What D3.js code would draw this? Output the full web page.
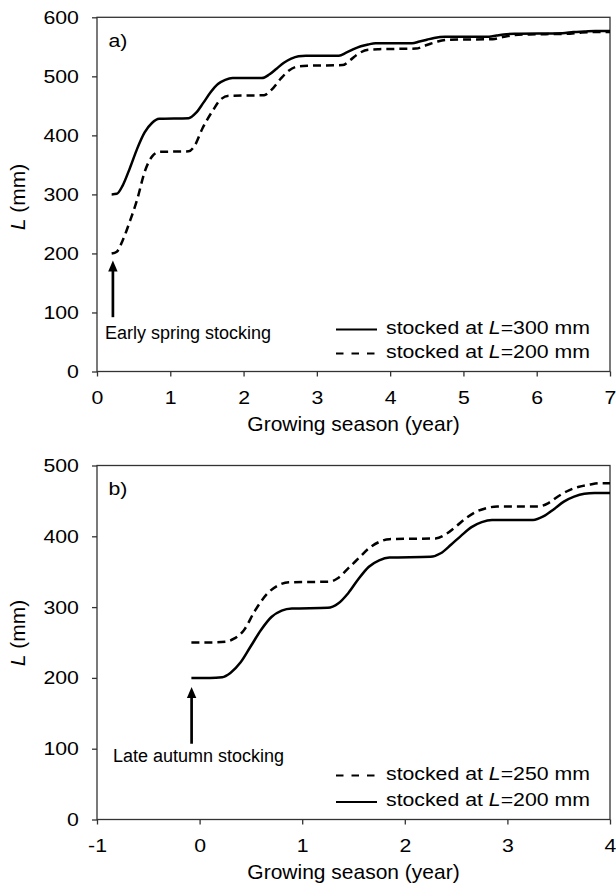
<!DOCTYPE html>
<html>
<head>
<meta charset="utf-8">
<script src="https://cdn.jsdelivr.net/npm/d3@7"></script>
<style>
  body { margin: 0; background: #fff; }
  svg text { font-family: "Liberation Sans", Arial, sans-serif; fill: #000; }
</style>
</head>
<body>
<div class="chart"></div>
<script>
var svgWidth = 616;
var svgHeight = 886;

// panel a) early spring stocking
var xTicksA = [0, 1, 2, 3, 4, 5, 6, 7];
var yTicksA = [0, 100, 200, 300, 400, 500, 600];
var a300x = [0.2, 0.27, 0.35, 0.45, 0.55, 0.65, 0.75, 0.85, 1.25, 1.35, 1.45, 1.55, 1.65, 1.75, 1.85, 2.25, 2.35, 2.45, 2.55, 2.65, 2.75, 2.85, 3.3, 3.4, 3.5, 3.6, 3.7, 3.8, 4.3, 4.4, 4.5, 4.6, 4.75, 5.35, 5.45, 5.55, 5.7, 6.35, 6.5, 6.65, 6.8, 7.0];
var a300y = [300, 301, 315, 345, 378, 405, 421, 428, 429, 438, 455, 473, 487, 494, 497, 497, 503, 513, 523, 530, 534, 535, 535, 540, 546, 551, 554, 556, 556, 559, 562, 565, 567, 567, 569, 571, 572, 573, 575, 576, 577, 577];
var a200x = [0.2, 0.27, 0.35, 0.45, 0.55, 0.65, 0.75, 0.85, 1.25, 1.33, 1.44, 1.58, 1.68, 1.8, 2.28, 2.38, 2.5, 2.62, 2.75, 2.9, 3.35, 3.45, 3.55, 3.7, 3.85, 4.35, 4.5, 4.65, 4.8, 5.4, 5.55, 5.7, 5.9, 6.4, 6.6, 6.8, 7.0];
var a200y = [200, 203, 222, 255, 292, 338, 364, 372, 373, 382, 412, 442, 460, 467, 468, 477, 495, 510, 517, 518, 519, 527, 537, 545, 546, 547, 553, 559, 562, 563, 567, 570, 571, 572, 574, 575, 575];
var legendA = ["300", "200"];

// panel b) late autumn stocking
var xTicksB = [-1, 0, 1, 2, 3, 4];
var yTicksB = [0, 100, 200, 300, 400, 500];
var b250x = [-0.08, 0.1, 0.25, 0.33, 0.43, 0.54, 0.66, 0.77, 0.87, 1.27, 1.35, 1.45, 1.55, 1.65, 1.75, 1.85, 2.3, 2.4, 2.5, 2.6, 2.7, 2.8, 2.9, 3.3, 3.4, 3.5, 3.6, 3.7, 3.8, 3.9, 4.0];
var b250y = [250, 250, 251, 255, 267, 295, 319, 331, 335, 336, 341, 355, 369, 383, 392, 396, 397, 403, 414, 426, 435, 440, 442, 442, 447, 457, 465, 470, 473, 475, 475];
var b200x = [-0.08, 0.1, 0.22, 0.3, 0.4, 0.5, 0.6, 0.7, 0.8, 0.9, 1.25, 1.35, 1.45, 1.55, 1.65, 1.75, 1.85, 2.25, 2.35, 2.45, 2.55, 2.65, 2.75, 2.85, 3.25, 3.35, 3.45, 3.55, 3.65, 3.75, 3.85, 4.0];
var b200y = [200, 200, 201, 207, 222, 245, 268, 286, 295, 298, 299, 305, 320, 340, 357, 366, 370, 371, 376, 388, 401, 413, 420, 423, 423, 428, 438, 449, 456, 460, 461, 461];
var legendB = ["250", "200"];

var svg = d3.select(".chart")
  .append("svg")
  .attr("width", svgWidth)
  .attr("height", svgHeight);

var left = 97, right = 610;

// text squeezed like the original figure (a bit wide)
function wideText(g, x, y, size, sx, anchor) {
  return g.append("text")
    .attr("transform", `translate(${x},${y}) scale(${sx},1)`)
    .attr("font-size", size)
    .attr("text-anchor", anchor || "start");
}

function lText(t, pre, post) {
  t.append("tspan").text(pre);
  t.append("tspan").attr("font-style", "italic").text("L");
  t.append("tspan").text(post);
}

function drawPanel(p) {
  var x = d3.scaleLinear().domain(p.xDomain).range([left, right]);
  var y = d3.scaleLinear().domain(p.yDomain).range([p.bottom, p.top]);
  var g = svg.append("g");

  // axes
  var xa = g.append("g")
    .attr("transform", `translate(0,${p.bottom})`)
    .call(d3.axisBottom(x).tickValues(p.xTicks).tickSize(5).tickSizeOuter(0).tickPadding(14).tickFormat(d => String(d)));
  var ya = g.append("g")
    .attr("transform", `translate(${left},0)`)
    .call(d3.axisLeft(y).tickValues(p.yTicks).tickSize(5).tickSizeOuter(0).tickPadding(10.7).tickFormat(d => String(d)));
  [xa, ya].forEach(function(a) {
    a.select(".domain").remove();
    a.attr("font-family", null).attr("font-size", null);
    a.selectAll("line").attr("stroke", "#333").attr("stroke-width", 1.3);
    a.selectAll("text").attr("font-size", 18.5).attr("transform", "scale(1.15,1)");
  });

  // frame
  g.append("rect")
    .attr("x", left).attr("y", p.top)
    .attr("width", right - left).attr("height", p.bottom - p.top)
    .attr("fill", "none").attr("stroke", "#333").attr("stroke-width", 1.3);

  // curves
  var line = d3.line()
    .x(d => x(d[0]))
    .y(d => y(d[1]))
    .curve(d3.curveMonotoneX);
  p.series.forEach(function(s) {
    g.append("path")
      .datum(d3.zip(s.x, s.y))
      .attr("d", line)
      .attr("fill", "none")
      .attr("stroke", "#000")
      .attr("stroke-width", 2.5)
      .attr("stroke-dasharray", s.dashed ? "8,5" : null);
  });

  // legend
  p.series.forEach(function(s, i) {
    var ly = p.legendY[i];
    g.append("line")
      .attr("x1", 336).attr("x2", 377)
      .attr("y1", ly - 4).attr("y2", ly - 4)
      .attr("stroke", "#000").attr("stroke-width", 2)
      .attr("stroke-dasharray", s.dashed ? "7.5,8" : null);
    lText(wideText(g, 386, ly, 18.5, 1.15), "stocked at ", "=" + s.label + " mm");
  });

  // stocking arrow
  var ax = x(p.arrow[0]), tip = y(p.arrow[1]), tail = y(p.arrow[2]);
  g.append("line")
    .attr("x1", ax).attr("x2", ax)
    .attr("y1", tail).attr("y2", tip + 9)
    .attr("stroke", "#000").attr("stroke-width", 2.7);
  g.append("path")
    .attr("d", `M${ax},${tip}L${ax - 4.7},${tip + 11}L${ax + 4.7},${tip + 11}Z`)
    .attr("fill", "#000");
  g.append("text")
    .attr("x", p.noteX).attr("y", p.noteY)
    .attr("font-size", 18)
    .text(p.note);

  // panel letter
  wideText(g, left + 11.5, p.top + 29.5, 18.5, 1.15).text(p.letter);

  // axis titles
  wideText(g, (left + right) / 2, p.bottom + 59, 20, 1.05, "middle").text("Growing season (year)");
  var yt = g.append("text")
    .attr("transform", `translate(25,${p.yTitleY}) rotate(-90)`)
    .attr("font-size", 21)
    .attr("text-anchor", "middle");
  lText(yt, "", " (mm)");
}

drawPanel({
  xDomain: [0, 7], yDomain: [0, 600], top: 17.3, bottom: 371.5,
  xTicks: xTicksA, yTicks: yTicksA,
  series: [
    { x: a300x, y: a300y, dashed: false, label: legendA[0] },
    { x: a200x, y: a200y, dashed: true, label: legendA[1] }
  ],
  legendY: [333.5, 357.5],
  arrow: [0.217, 188, 92],
  note: "Early spring stocking", noteX: 105, noteY: 338.5,
  letter: "a)", yTitleY: 197
});

drawPanel({
  xDomain: [-1, 4], yDomain: [0, 500], top: 465.5, bottom: 819.5,
  xTicks: xTicksB, yTicks: yTicksB,
  series: [
    { x: b250x, y: b250y, dashed: true, label: legendB[0] },
    { x: b200x, y: b200y, dashed: false, label: legendB[1] }
  ],
  legendY: [779.5, 806],
  arrow: [-0.078, 187, 107],
  note: "Late autumn stocking", noteX: 113, noteY: 762,
  letter: "b)", yTitleY: 633
});
</script>
</body>
</html>
